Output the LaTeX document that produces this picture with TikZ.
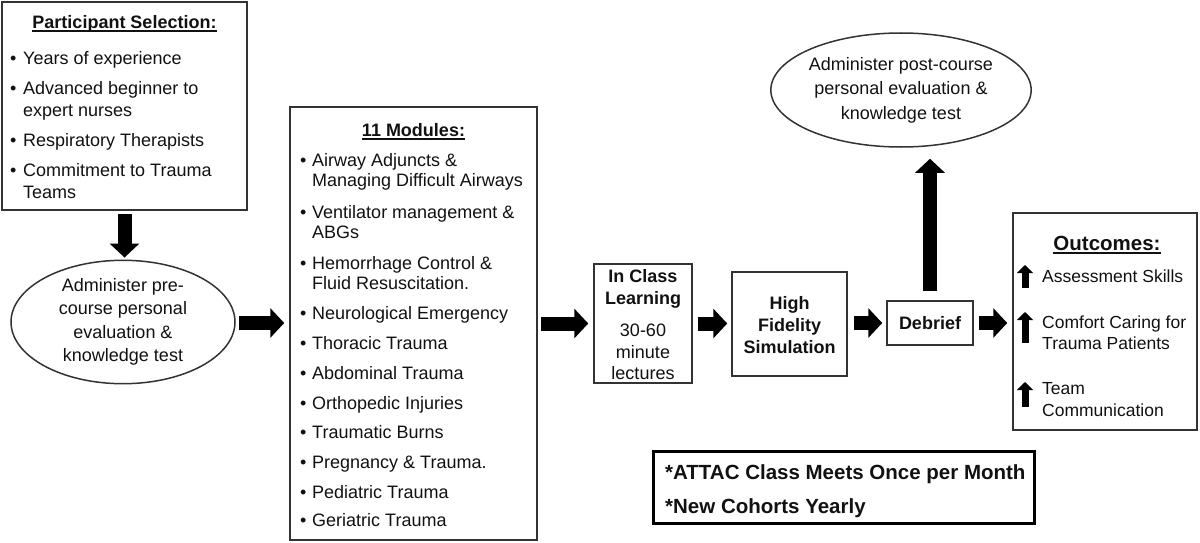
\documentclass[tikz,border=0pt]{standalone}
\usepackage{fontspec}
\setmainfont{Liberation Sans}
\usetikzlibrary{arrows.meta,calc,shapes.geometric}
\newcommand\myul[1]{\setbox0\hbox{#1}\rlap{\rule[-3.5pt]{\wd0}{1.6pt}}\box0}
\definecolor{linec}{HTML}{333333}
\definecolor{txtc}{HTML}{111111}
\begin{document}
\begin{tikzpicture}[x=1pt,y=-1pt,
  box/.style={draw=linec, line width=1.5pt, inner sep=0pt},
  txt/.style={inner sep=0pt, text=txtc, font=\fontsize{18}{21}\selectfont},
  btxt/.style={inner sep=0pt, text=txtc, font=\fontsize{18}{21}\selectfont\bfseries},
  otxt/.style={inner sep=0pt, text=txtc, font=\fontsize{17.5}{21}\selectfont},
  ntxt/.style={inner sep=0pt, text=txtc, font=\fontsize{20.5}{24}\selectfont\bfseries},
  bul/.style={inner sep=0pt, text=txtc, font=\fontsize{18}{21}\selectfont, anchor=base west},
  ell/.style={draw=linec, line width=1.5pt, ellipse, inner sep=0pt, align=center, text=txtc},
  bigarr/.style={line width=14pt, -{Triangle[length=14pt,width=29pt]}},
  smallarr/.style={line width=7pt, -{Triangle[length=8pt,width=16pt]}}]
\useasboundingbox (0,0) rectangle (1200,543);

% Participant selection
\node[box, minimum width=245pt, minimum height=208pt] (sel) at (124.5,106) {};
\node[btxt, anchor=base] (selt) at (124.5,28.5) {\myul{Participant Selection:}};
\node[bul] (sb1) at (10,64.5) {\textbullet};
\node[txt, anchor=base west] (s1) at (23,64.5) {Years of experience};
\node[bul] (sb2) at (10,94.5) {\textbullet};
\node[txt, anchor=base west] (s2a) at (23,94.5) {Advanced beginner to};
\node[txt, anchor=base west] (s2b) at (23,116.5) {expert nurses};
\node[bul] (sb3) at (10,146.5) {\textbullet};
\node[txt, anchor=base west] (s3) at (23,146.5) {Respiratory Therapists};
\node[bul] (sb4) at (10,176.5) {\textbullet};
\node[txt, anchor=base west] (s4a) at (23,176.5) {Commitment to Trauma};
\node[txt, anchor=base west] (s4b) at (23,198.5) {Teams};

% Pre-course ellipse
\node[ell, minimum width=224pt, minimum height=116pt, font=\fontsize{18}{23.5}\selectfont] (pre) at (123,322)
  {Administer pre-\\course personal\\evaluation \&\\knowledge test};

% Modules
\node[box, minimum width=247pt, minimum height=433pt] (mod) at (413.5,323.5) {};
\node[btxt, anchor=base] (modt) at (413.5,136.5) {\myul{11 Modules:}};
\node[bul] (mb1) at (300,166.5) {\textbullet};
\node[txt, anchor=base west] (m1a) at (312,166.5) {Airway Adjuncts \&};
\node[txt, anchor=base west] (m1b) at (312,186.5) {Managing Difficult Airways};
\node[bul] (mb2) at (300,218.5) {\textbullet};
\node[txt, anchor=base west] (m2a) at (312,218.5) {Ventilator management \&};
\node[txt, anchor=base west] (m2b) at (312,238.5) {ABGs};
\node[bul] (mb3) at (300,269.5) {\textbullet};
\node[txt, anchor=base west] (m3a) at (312,269.5) {Hemorrhage Control \&};
\node[txt, anchor=base west] (m3b) at (312,289.5) {Fluid Resuscitation.};
\node[bul] (mb4) at (300,319.5) {\textbullet};
\node[txt, anchor=base west] (m4) at (312,319.5) {Neurological Emergency};
\node[bul] (mb5) at (300,349.5) {\textbullet};
\node[txt, anchor=base west] (m5) at (312,349.5) {Thoracic Trauma};
\node[bul] (mb6) at (300,379.5) {\textbullet};
\node[txt, anchor=base west] (m6) at (312,379.5) {Abdominal Trauma};
\node[bul] (mb7) at (300,409.5) {\textbullet};
\node[txt, anchor=base west] (m7) at (312,409.5) {Orthopedic Injuries};
\node[bul] (mb8) at (300,438.5) {\textbullet};
\node[txt, anchor=base west] (m8) at (312,438.5) {Traumatic Burns};
\node[bul] (mb9) at (300,468.5) {\textbullet};
\node[txt, anchor=base west] (m9) at (312,468.5) {Pregnancy \& Trauma.};
\node[bul] (mb10) at (300,498.5) {\textbullet};
\node[txt, anchor=base west] (m10) at (312,498.5) {Pediatric Trauma};
\node[bul] (mb11) at (300,526.5) {\textbullet};
\node[txt, anchor=base west] (m11) at (312,526.5) {Geriatric Trauma};

% In class learning
\node[box, minimum width=98pt, minimum height=119pt] (inclass) at (643,323.5) {};
\node[btxt, anchor=base] (ic1) at (643,282.5) {In Class};
\node[btxt, anchor=base] (ic2) at (643,304.5) {Learning};
\node[txt, anchor=base] (ic3) at (643,336.5) {30-60};
\node[txt, anchor=base] (ic4) at (643,358.5) {minute};
\node[txt, anchor=base] (ic5) at (643,379.5) {lectures};

% High fidelity simulation
\node[box, minimum width=115pt, minimum height=104pt] (hf) at (789.5,324) {};
\node[btxt, anchor=base] (hf1) at (789.5,309.5) {High};
\node[btxt, anchor=base] (hf2) at (789.5,331.5) {Fidelity};
\node[btxt, anchor=base] (hf3) at (789.5,353.5) {Simulation};

% Debrief
\node[box, btxt, draw=linec, minimum width=86pt, minimum height=44pt] (deb) at (930,323) {Debrief};

% Post-course ellipse
\node[ell, minimum width=248pt, minimum height=114pt, font=\fontsize{18}{24.5}\selectfont] (post) at (901,90)
  {Administer post-course\\personal evaluation \&\\knowledge test};

% Outcomes
\node[box, minimum width=184pt, minimum height=217pt] (out) at (1105,321.5) {};
\node[ntxt, anchor=base] (outt) at (1107,250) {\myul{Outcomes:}};
\node[otxt, anchor=base west] (o1) at (1042,282.5) {Assessment Skills};
\node[otxt, anchor=base west] (o2a) at (1042,328.5) {Comfort Caring for};
\node[otxt, anchor=base west] (o2b) at (1042,349.5) {Trauma Patients};
\node[otxt, anchor=base west] (o3a) at (1042,394.5) {Team};
\node[otxt, anchor=base west] (o3b) at (1042,416.5) {Communication};
\draw[smallarr] (1025,288) -- (1025,265);
\draw[smallarr] (1025,343) -- (1025,312);
\draw[smallarr] (1025,407) -- (1025,382);

% Note box
\node[draw=black, line width=3pt, inner sep=0pt, minimum width=381pt, minimum height=72pt] (note) at (843.5,487) {};
\node[ntxt, anchor=base west] (n1) at (665,479.3) {*ATTAC Class Meets Once per Month};
\node[ntxt, anchor=base west] (n2) at (665,513.3) {*New Cohorts Yearly};

% Block arrows
\draw[bigarr] ($(sel.south)+(0,3)$) -- ($(sel.south |- pre.north)+(0,-2)$);
\draw[bigarr] ($(pre.east)+(3,1)$) -- ($(pre.east -| mod.west)+(-5,1)$);
\draw[bigarr] ($(mod.east)+(3,0)$) -- ($(mod.east -| inclass.west)+(-5,0)$);
\draw[bigarr] ($(inclass.east)+(5,0)$) -- ($(inclass.east -| hf.west)+(-4,0)$);
\draw[bigarr] ($(hf.east)+(6,-1)$) -- ($(hf.east -| deb.west)+(-4,-1)$);
\draw[bigarr] ($(deb.east)+(5,0)$) -- ($(deb.east -| out.west)+(-5,0)$);
\draw[bigarr] ($(deb.north)+(0,-9)$) -- ($(deb.north |- post.south)+(0,11)$);
\end{tikzpicture}
\end{document}
